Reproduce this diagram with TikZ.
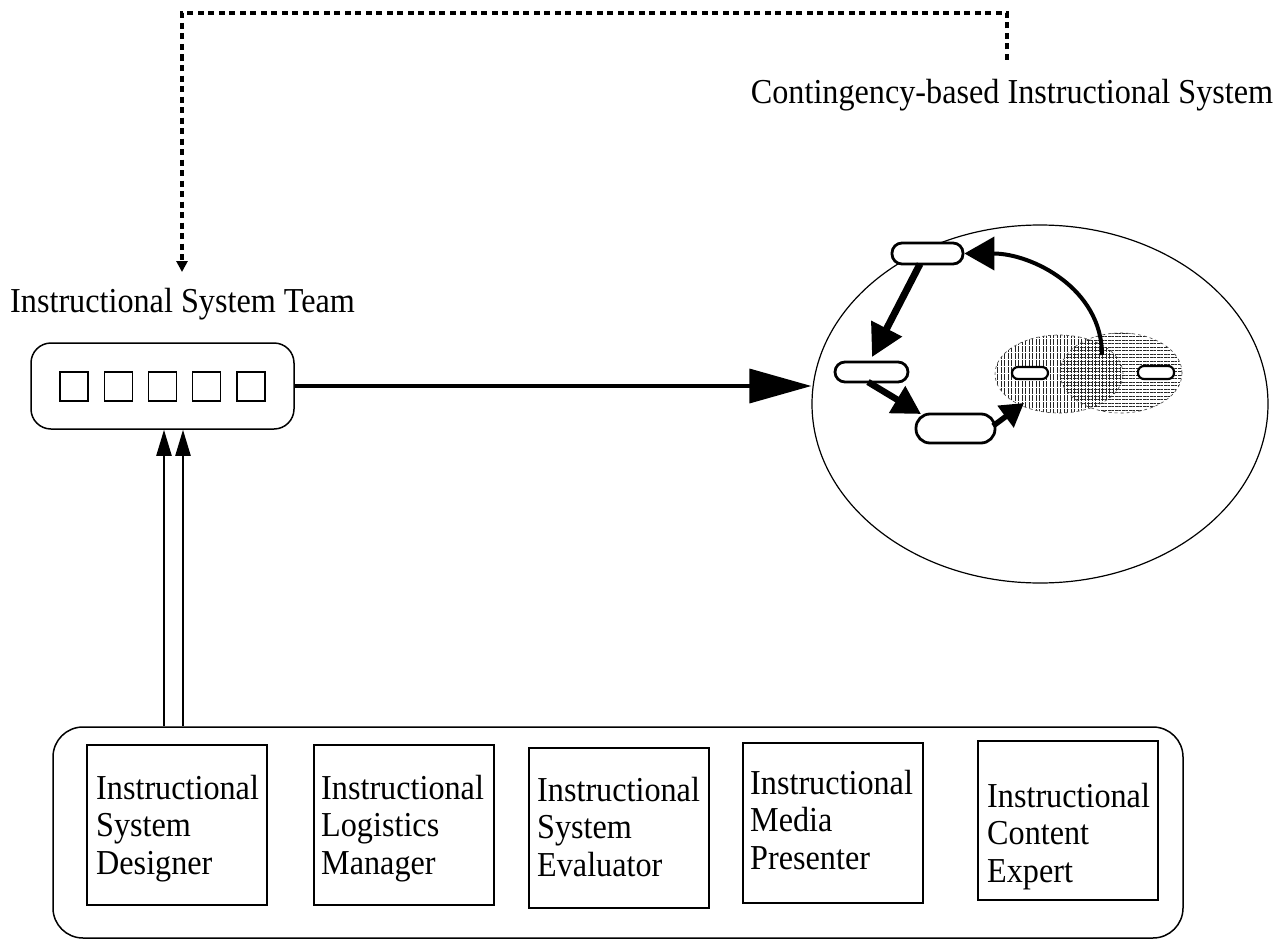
\documentclass[tikz,border=0pt]{standalone}
\usepackage{fontspec}
\setmainfont{Liberation Serif}[FakeStretch=0.92]
\usetikzlibrary{arrows.meta,shapes.geometric,patterns.meta}
\begin{document}
\begin{tikzpicture}[x=1pt,y=-1pt,
  lbl/.style={font=\fontsize{35}{37.5}\selectfont, inner sep=0pt},
  boxtxt/.style={lbl, align=left, anchor=north west},
  rolebox/.style={draw, line width=1.8pt, minimum width=180pt, minimum height=160pt, inner sep=0pt},
  sq/.style={draw, line width=1.4pt, minimum width=28pt, minimum height=29pt, inner sep=0pt},
  pill/.style={draw, line width=2.8pt, fill=white, inner sep=0pt},
  hatchell/.style={ellipse, draw=black!75, dashed, line width=0.6pt, inner sep=0pt},
  fatarrow/.style={line width=7pt, -{Triangle[length=32pt,width=33pt]}},
  dashconn/.style={line width=3.4pt, dash pattern=on 6pt off 4.5pt, -{Triangle[length=11pt,width=11pt]}},
  uparrow/.style={line width=2.2pt, -{Triangle[length=26pt,width=15pt]}},
  mainarrow/.style={line width=3.5pt, -{Triangle[length=62pt,width=34pt]}}
]
\useasboundingbox (0,0) rectangle (1285,942);

% labels
\node[lbl, anchor=base west] (teamlbl) at (10,312) {Instructional System Team};
\node[lbl, anchor=base] (cislbl) at (1012,103) {Contingency-based Instructional System};

% team box
\node[draw, line width=1.5pt, rounded corners=20pt, minimum width=263pt, minimum height=86pt] (team) at (162.5,386) {};
\foreach \i in {0,...,4} {
  \node[sq] (sq\i) at ({74+44.25*\i},386.5) {};
}

% big ellipse
\node[draw, ellipse, line width=1.2pt, minimum width=456pt, minimum height=358pt, inner sep=0pt] (cis) at (1040,404) {};

% main arrow
\draw[mainarrow] (team.east) -- (team.east -| cis.west);

% dashed feedback connector
\coordinate (d0) at (1007,60);
\coordinate (d1) at (1007,13);
\coordinate (d2) at (182,13);
\coordinate (dtip) at (182,272);
\draw[dashconn] (d0) -- (d1) -- (d2) -- (dtip);

% hatched ellipses
\node[hatchell, minimum width=128pt, minimum height=78pt, pattern={Lines[angle=90,distance=3.5pt,line width=0.5pt]}, pattern color=black!85] (ea) at (1059,374) {};
\node[hatchell, minimum width=122pt, minimum height=80pt, pattern={Lines[angle=0,distance=3.5pt,line width=0.5pt]}, pattern color=black!85] (eb) at (1121,373) {};

% pills
\node[pill, rounded corners=10pt, minimum width=71pt, minimum height=21pt] (p1) at (927.5,253.5) {};
\node[pill, rounded corners=10pt, minimum width=73pt, minimum height=20pt] (p2) at (871.5,372) {};
\node[pill, rounded corners=14pt, minimum width=79pt, minimum height=29pt] (p3) at (955.5,428.5) {};
\node[pill, line width=2.2pt, rounded corners=6pt, minimum width=36pt, minimum height=12pt] (p4) at (1030,373) {};
\node[pill, line width=2.2pt, rounded corners=6pt, minimum width=36pt, minimum height=13pt] (p5) at (1156,372.5) {};

% inner arrows
\coordinate (a1s) at (920,264);
\coordinate (a1e) at (872,357);
\draw[fatarrow] (a1s) -- (a1e);
\coordinate (a2s) at (868,382);
\coordinate (a2e) at (921,414);
\draw[line width=6.5pt, -{Triangle[length=28pt,width=30pt]}] (a2s) -- (a2e);
\coordinate (a3s) at (993,426);
\coordinate (a3e) at (1024,403);
\draw[line width=5.5pt, -{Triangle[length=23pt,width=26pt]}] (a3s) -- (a3e);
\coordinate (a4s) at (1102,355);
\draw[line width=4pt, -{Triangle[length=30pt,width=33pt]}] (a4s) to[out=90,in=0] (p1.east);

% staff box
\node[draw, line width=1.5pt, rounded corners=30pt, minimum width=1130pt, minimum height=211pt] (staff) at (618,832.5) {};
\node[rolebox] (b1) at (177,825) {};
\node[rolebox] (b2) at (404,825) {};
\node[rolebox] (b3) at (619,828) {};
\node[rolebox] (b4) at (833,823) {};
\node[rolebox, minimum height=159pt] (b5) at (1068,820.5) {};
\node[boxtxt] (t1) at (96,775) {Instructional\\System\\Designer};
\node[boxtxt] (t2) at (321,775) {Instructional\\Logistics\\Manager};
\node[boxtxt] (t3) at (537,777) {Instructional\\System\\Evaluator};
\node[boxtxt] (t4) at (750,770) {Instructional\\Media\\Presenter};
\node[boxtxt] (t5) at (987,783) {Instructional\\Content\\Expert};

% vertical arrows
\coordinate (v1) at (164,0);
\coordinate (v2) at (183,0);
\draw[uparrow] (staff.north -| v1) -- (team.south -| v1);
\draw[uparrow] (staff.north -| v2) -- (team.south -| v2);
\end{tikzpicture}
\end{document}
